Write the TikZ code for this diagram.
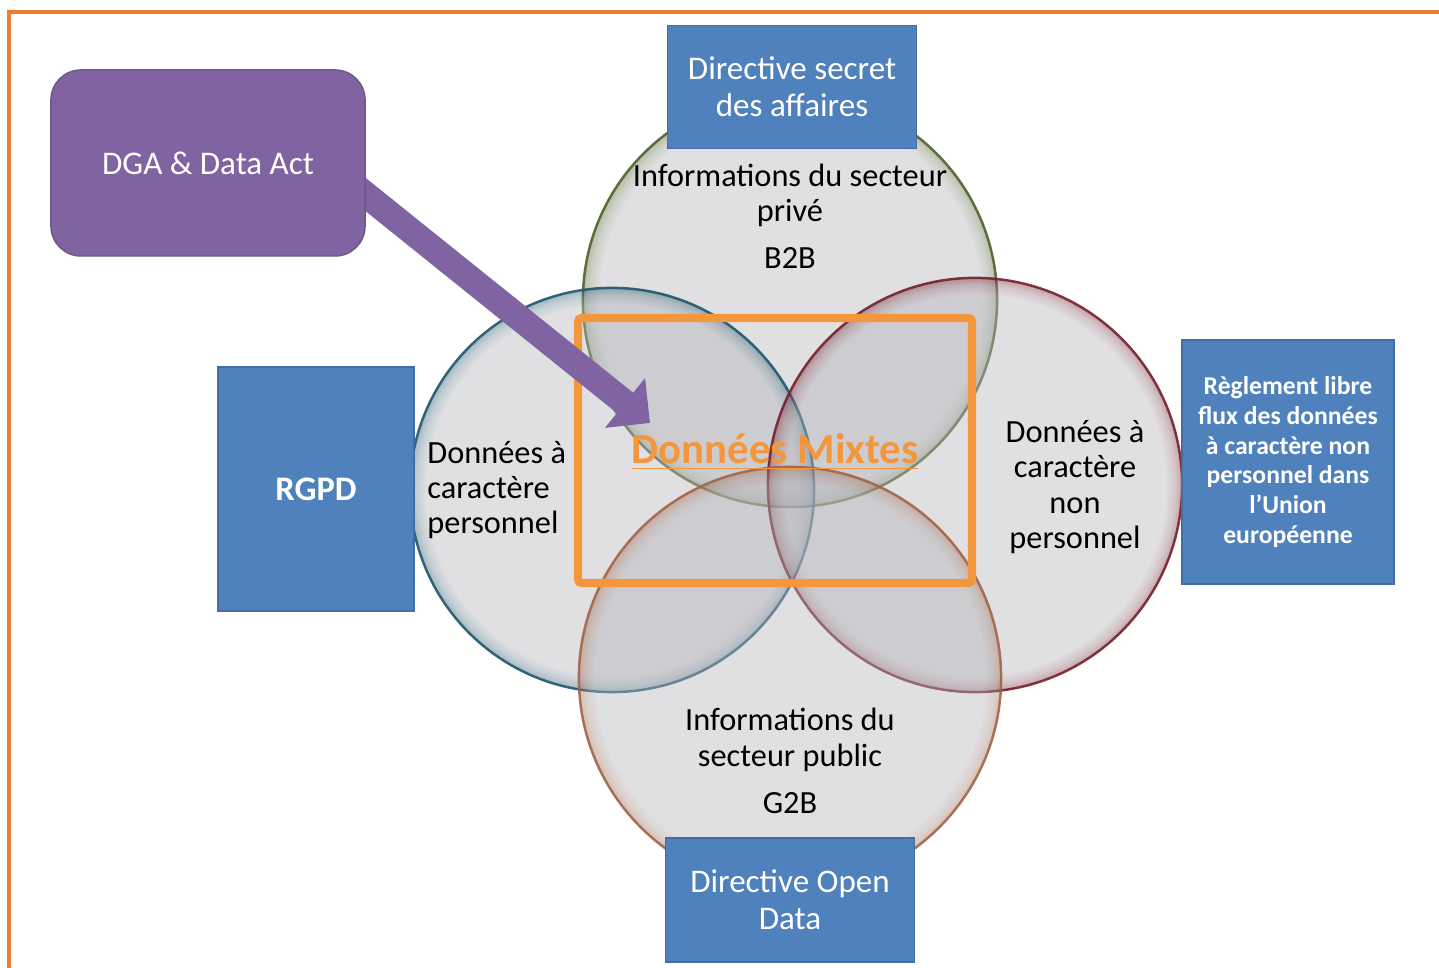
\documentclass[tikz,border=0pt]{standalone}
\usepackage{fontspec}
\setmainfont{Carlito}
\usepackage{tikz}
\usetikzlibrary{arrows.meta}

\definecolor{loiblue}{RGB}{79,129,189}
\definecolor{dgapurple}{RGB}{128,100,162}
\definecolor{mixorange}{RGB}{243,150,60}
\definecolor{frameorange}{RGB}{237,125,49}
\definecolor{bubfill}{RGB}{180,180,186}
\definecolor{priveedge}{RGB}{80,96,44}
\definecolor{persoedge}{RGB}{30,86,108}
\definecolor{nonpersoedge}{RGB}{116,32,44}
\definecolor{publicedge}{RGB}{160,100,72}
\colorlet{bubedge}{gray}
% bubble: flat inside, dark rim (25bp is the path edge)
\pgfdeclareradialshading[bubedge]{bubble}{\pgfpoint{0bp}{0bp}}{color(0bp)=(bubfill); color(23bp)=(bubfill); color(24.2bp)=(bubedge!45!bubfill); color(25bp)=(bubedge); color(50bp)=(bubedge)}

\tikzset{
  bub/.style={circle, minimum size=4.14cm, inner sep=0pt, shade, shading=bubble,
    /utils/exec={\colorlet{bubedge}{#1}}, fill opacity=.42, draw=#1, draw opacity=.9, line width=.7pt},
  loi/.style={rectangle, fill=loiblue, draw=loiblue!85!black, line width=.4pt, text=white,
    align=center, inner sep=0pt, font=\fontsize{9.4}{10.6}\selectfont},
  bubtext/.style={align=center, font=\fontsize{9.2}{10}\selectfont},
}

\begin{document}
\begin{tikzpicture}[x=0.01cm, y=-0.01cm]
    \clip (0,0) rectangle (1439,968);
    \useasboundingbox (0,0) rectangle (1439,968);
    \draw[frameorange, line width=0.9pt] (9,12) rectangle (1480,1000);

    % the four families of data
    \node[bub=priveedge] (prive) at (790,300) {};
    \node[bub=persoedge, minimum size=4.04cm] (perso) at (612,490) {};
    \node[bub=nonpersoedge] (nonperso) at (975,485) {};
    \node[bub=publicedge, minimum size=4.22cm] (public) at (790,678) {};

    % mixed data zone
    \draw[mixorange, line width=2.3pt, rounded corners=1pt] (578,318) rectangle (972,583);

    \node[bubtext] (privetxt) at (790,216) {Informations du secteur\\privé\\[3.4pt]B2B};
    \node[bubtext, align=left, anchor=west] (persotxt) at (415,490) {Données à\\caractère\\personnel};
    \node[bubtext] (nonpersotxt) at (1075,487) {Données à\\caractère\\non\\personnel};
    \node[bubtext] (publictxt) at (790,761) {Informations du\\secteur public\\[3.4pt]G2B};

    \node[mixorange, font=\fontsize{12.2}{14}\selectfont\bfseries] (mixtes) at (775,452) {\underline{Données Mixtes}};

    % DGA arrow into the mixed zone
    \coordinate (dgaout) at (350,182);
    \coordinate (mixtip) at (650,423);
    \draw[dgapurple, line width=7.4pt, -{Triangle[length=0.32cm, width=0.62cm]}] (dgaout) -- (mixtip);

    \node[rectangle, rounded corners=0.3cm, fill=dgapurple, draw=dgapurple!85!black, line width=.4pt,
      minimum width=3.14cm, minimum height=1.86cm, text=white, font=\fontsize{9.4}{10}\selectfont] (dga) at (208,163) {DGA \& Data Act};

    % the texts of law
    \node[loi, minimum width=2.49cm, minimum height=1.23cm] (secret) at (792,87) {Directive secret\\des affaires};
    \node[loi, minimum width=1.96cm, minimum height=2.44cm, font=\fontsize{9.8}{10}\selectfont\bfseries] (rgpd) at (316,489) {RGPD};
    \node[loi, minimum width=2.12cm, minimum height=2.44cm, font=\fontsize{7.3}{8.5}\selectfont\bfseries] (libre) at (1288,462)
      {Règlement libre\\flux des données\\à caractère non\\personnel dans\\l'Union\\européenne};
    \node[loi, minimum width=2.49cm, minimum height=1.24cm] (opendata) at (790,900) {Directive Open\\Data};
\end{tikzpicture}
\end{document}
